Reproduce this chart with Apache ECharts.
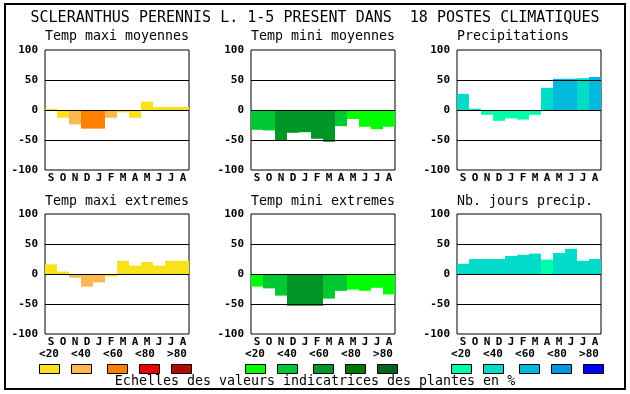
<!DOCTYPE html>
<html><head><meta charset="utf-8">
<script src="https://cdn.jsdelivr.net/npm/echarts@6/dist/echarts.min.js"></script>
<style>html,body{margin:0;padding:0;background:#fff}#c{width:630px;height:394px}</style>
</head><body><div id="c"></div>
<script>
const months = ['S','O','N','D','J','F','M','A','M','J','J','A'];
const yTicks = [-100, -50, 0, 50, 100];
const mainTitle = 'SCLERANTHUS PERENNIS L. 1-5 PRESENT DANS  18 POSTES CLIMATIQUES';
const footText = 'Echelles des valeurs indicatrices des plantes en %';
const legendLabels = ['<20', '<40', '<60', '<80', '>80'];

const warmColors = ['#F9E11B', '#FFB850', '#FF8000', '#EE0000', '#B00A00'];
const greenColors = ['#00FF00', '#00C832', '#009628', '#007800', '#006420'];
const blueColors = ['#00FFAA', '#00DCC8', '#00B9DC', '#0096E6', '#0000FF'];

const panelTitles = ['Temp maxi moyennes', 'Temp mini moyennes', 'Precipitations',
                     'Temp maxi extremes', 'Temp mini extremes', 'Nb. jours precip.'];

const tmaxMoy = [2, -13, -24, -31, -31, -13, -4, -13, 14, 5, 5, 5];
const tmaxMoyCls = [0, 0, 1, 2, 2, 1, 0, 0, 0, 0, 0, 0];
const tminMoy = [-33, -34, -50, -38, -37, -48, -53, -27, -15, -28, -32, -28];
const tminMoyCls = [1, 1, 2, 2, 2, 2, 2, 1, 0, 0, 0, 0];
const precip = [27, 2, -8, -18, -14, -16, -8, 37, 52, 52, 53, 55];
const precipCls = [1, 1, 0, 0, 0, 0, 0, 1, 2, 2, 1, 2];
const tmaxExt = [16, 4, -6, -21, -14, -4, 22, 14, 20, 14, 22, 22];
const tmaxExtCls = [0, 0, 1, 1, 1, 0, 0, 0, 0, 0, 0, 0];
const tminExt = [-21, -24, -36, -53, -53, -53, -41, -28, -26, -28, -23, -34];
const tminExtCls = [0, 1, 1, 2, 2, 2, 1, 1, 0, 0, 0, 0];
const nbJours = [17, 25, 25, 25, 30, 32, 34, 24, 35, 42, 22, 25];
const nbJoursCls = [1, 1, 1, 1, 1, 1, 1, 0, 1, 1, 1, 1];

const panels = [
  {vals: tmaxMoy, cls: tmaxMoyCls, pal: warmColors},
  {vals: tminMoy, cls: tminMoyCls, pal: greenColors},
  {vals: precip, cls: precipCls, pal: blueColors},
  {vals: tmaxExt, cls: tmaxExtCls, pal: warmColors},
  {vals: tminExt, cls: tminExtCls, pal: greenColors},
  {vals: nbJours, cls: nbJoursCls, pal: blueColors}
];

const FONT = "'DejaVu Sans Mono', 'Liberation Mono', monospace";
const lefts = [45, 251, 457];
const tops = [50, 214];
const W = 144, H = 120;

const grids = [], xAxes = [], yAxes = [], series = [], graphics = [];
panels.forEach((p, i) => {
  const col = i % 3, row = Math.floor(i / 3);
  grids.push({left: lefts[col], top: tops[row], width: W, height: H,
    show: true, borderColor: '#000', borderWidth: 1, backgroundColor: '#fff'});
  xAxes.push({type: 'category', gridIndex: i, data: months,
    axisLine: {show: false, onZero: false}, axisTick: {show: false}, splitLine: {show: false},
    axisLabel: {color: '#000', fontFamily: FONT, fontWeight: 'bold', fontSize: 11, margin: 3, interval: 0}});
  yAxes.push({type: 'value', gridIndex: i, min: yTicks[0], max: yTicks[yTicks.length - 1], interval: 50,
    axisLine: {show: false}, axisTick: {show: false}, splitLine: {show: false},
    axisLabel: {color: '#000', fontFamily: FONT, fontWeight: 'bold', fontSize: 11, margin: 7}});
  series.push({type: 'bar', xAxisIndex: i, yAxisIndex: i, barCategoryGap: '0%',
    data: p.vals.map((v, k) => ({value: v, itemStyle: {color: p.pal[p.cls[k]]}})),
    markLine: {silent: true, symbol: 'none', animation: false,
      label: {show: false},
      lineStyle: {color: '#000', width: 1, type: 'solid'},
      emphasis: {disabled: true},
      data: yTicks.filter(t => t > yTicks[0] && t < yTicks[yTicks.length - 1]).map(t => ({yAxis: t}))}
  });
  graphics.push({type: 'text', left: lefts[col], top: (row === 0 ? 38 : 203) - 8,
    style: {text: panelTitles[i], font: "13.3px " + FONT, fill: '#000'}});
});

// legend
const legendPals = [warmColors, greenColors, blueColors];
const groupX = [39, 245, 451];
const boxOff = [0, 32, 68, 100, 132];
legendPals.forEach((pal, g) => {
  pal.forEach((c, k) => {
    graphics.push({type: 'rect', shape: {x: groupX[g] + boxOff[k] + 0.5, y: 364.5, width: 20, height: 9},
      style: {fill: c, stroke: '#000', lineWidth: 1}});
    graphics.push({type: 'text', x: groupX[g] + 10 + 32 * k, y: 354,
      style: {text: legendLabels[k], font: "bold 11px " + FONT, fill: '#000', align: 'center', verticalAlign: 'middle'}});
  });
});
graphics.push({type: 'text', x: 315, y: 18,
  style: {text: mainTitle, font: "15px " + FONT, fill: '#000', align: 'center', verticalAlign: 'middle'}});
graphics.push({type: 'text', x: 315, y: 382,
  style: {text: footText, font: "13.3px " + FONT, fill: '#000', align: 'center', verticalAlign: 'middle'}});
graphics.push({type: 'rect', shape: {x: 5, y: 4, width: 620, height: 385},
  style: {fill: 'none', stroke: '#000', lineWidth: 2}});

const chart = echarts.init(document.getElementById('c'), null, {renderer: 'canvas'});
chart.setOption({animation: false, backgroundColor: '#fff',
  grid: grids, xAxis: xAxes, yAxis: yAxes, series: series, graphic: graphics});
</script></body></html>
